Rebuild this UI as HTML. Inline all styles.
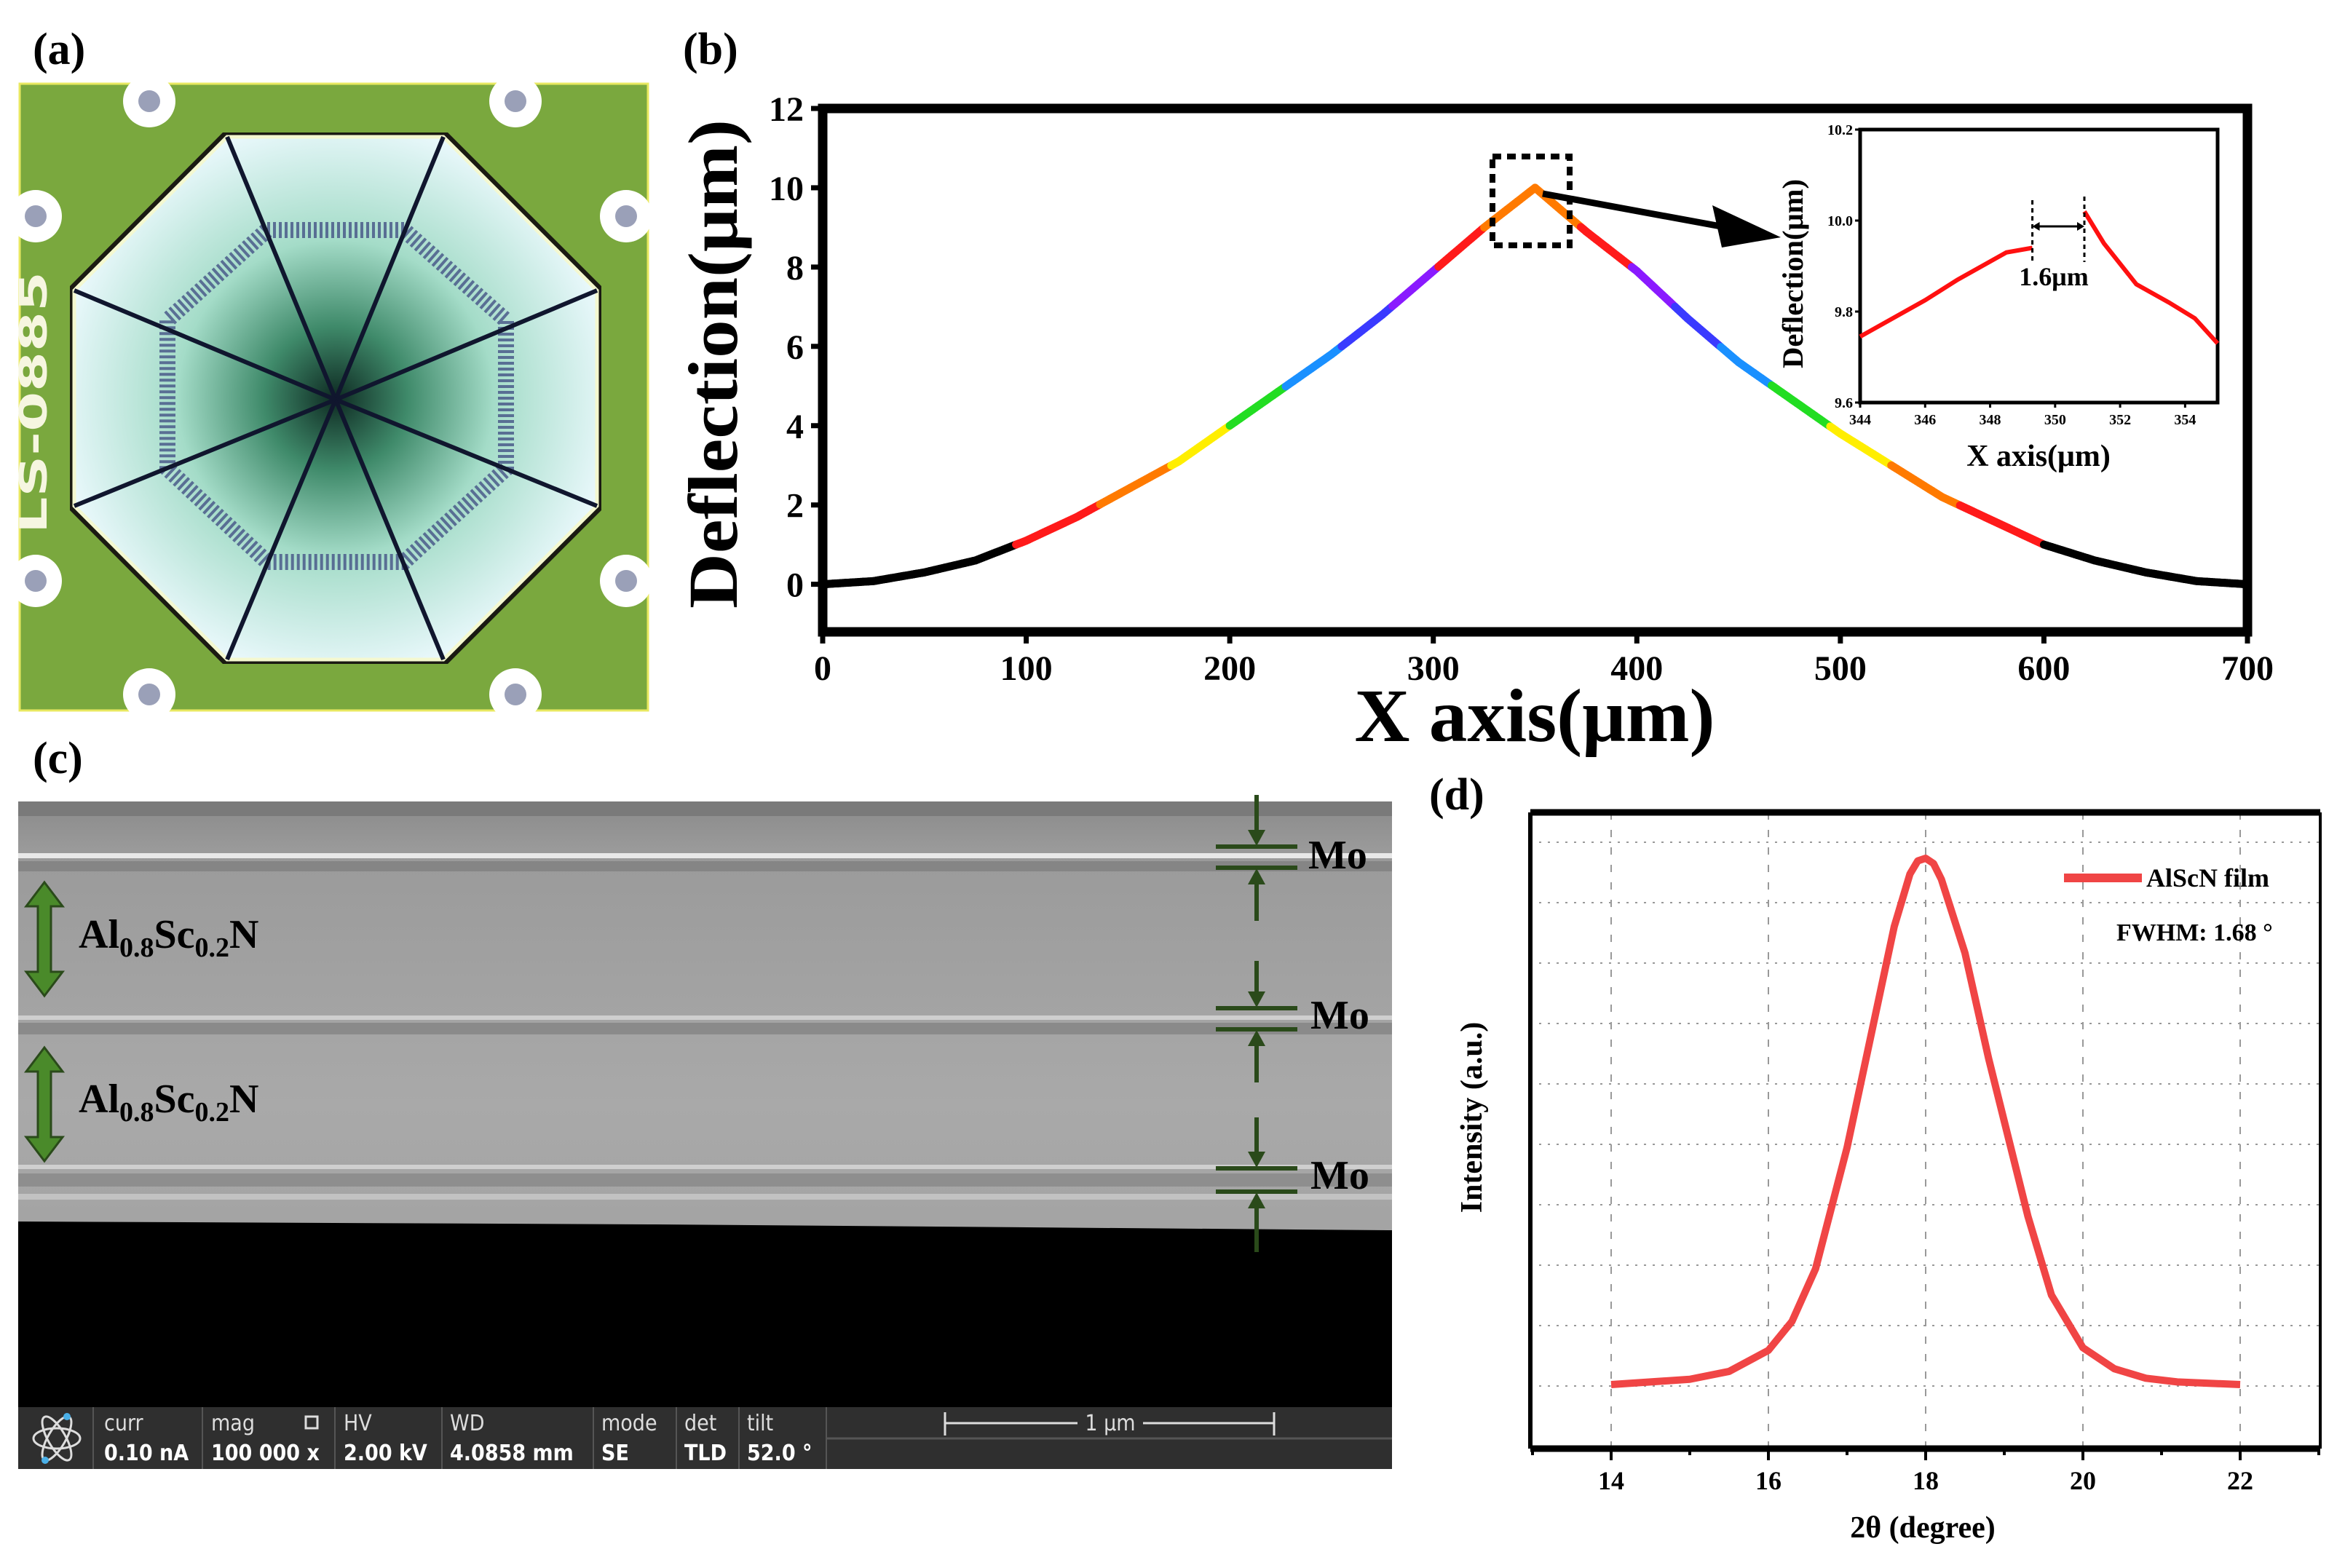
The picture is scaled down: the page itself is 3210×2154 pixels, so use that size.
<!DOCTYPE html>
<html><head><meta charset="utf-8"><style>
html,body{margin:0;padding:0;background:#fff;}
svg{display:block;font-family:"Liberation Serif",serif;}
.sem{font-family:"DejaVu Sans Condensed","DejaVu Sans",sans-serif;}
</style></head><body>
<svg id="fig" width="3210" height="2154" viewBox="0 0 3210 2154" xmlns="http://www.w3.org/2000/svg">
<defs>
<radialGradient id="memg" cx="50%" cy="50%" r="55%">
<stop offset="0" stop-color="#0e2a22"/><stop offset="0.25" stop-color="#3f8a6a"/><stop offset="0.55" stop-color="#a4dcc8"/><stop offset="1" stop-color="#eefaff"/>
</radialGradient>
<linearGradient id="semg" x1="0" y1="0" x2="0" y2="1">
<stop offset="0" stop-color="#8a8a8a"/><stop offset="0.08" stop-color="#9a9a9a"/><stop offset="0.5" stop-color="#a9a9a9"/><stop offset="1" stop-color="#9c9c9c"/>
</linearGradient>
</defs>

<!-- (a) -->
<text x="45" y="88" font-size="62" font-weight="bold">(a)</text>
<g>
<rect x="27" y="115" width="863" height="861" fill="#7aa83e" stroke="#e8e860" stroke-width="3"/>
<g fill="#fff"><circle cx="205" cy="139" r="36"/><circle cx="708" cy="139" r="36"/><circle cx="49" cy="297" r="36"/><circle cx="860" cy="297" r="36"/><circle cx="49" cy="798" r="36"/><circle cx="860" cy="798" r="36"/><circle cx="205" cy="954" r="36"/><circle cx="708" cy="954" r="36"/></g>
<g fill="#9aa0b8"><circle cx="205" cy="139" r="15"/><circle cx="708" cy="139" r="15"/><circle cx="49" cy="297" r="15"/><circle cx="860" cy="297" r="15"/><circle cx="49" cy="798" r="15"/><circle cx="860" cy="798" r="15"/><circle cx="205" cy="954" r="15"/><circle cx="708" cy="954" r="15"/></g>
<polygon points="306,182 615,182 826,393 826,701 615,912 306,912 96,701 96,393" fill="#1a1a12"/>
<polygon points="312,188 609,188 820,399 820,695 609,906 312,906 102,695 102,399" fill="url(#memg)" stroke="#f4f8d0" stroke-width="5"/>
<polygon points="367,316 555,316 695,440 695,644 555,772 367,772 230,644 230,440" fill="none" stroke="#4a5a8a" stroke-width="22" stroke-dasharray="4 4" opacity="0.85"/>
<g stroke="#10162e" stroke-width="6"><line x1="461" y1="549" x2="312" y2="188"/><line x1="461" y1="549" x2="609" y2="188"/><line x1="461" y1="549" x2="820" y2="399"/><line x1="461" y1="549" x2="820" y2="695"/><line x1="461" y1="549" x2="609" y2="906"/><line x1="461" y1="549" x2="312" y2="906"/><line x1="461" y1="549" x2="102" y2="695"/><line x1="461" y1="549" x2="102" y2="399"/></g>
<text transform="translate(64,733) rotate(-90)" font-family="DejaVu Sans Condensed,sans-serif" font-weight="bold" font-size="52" fill="#f6f6e0" textLength="360" lengthAdjust="spacingAndGlyphs">LS-0885</text>
</g>

<!-- (b) -->
<text x="938" y="88" font-size="62" font-weight="bold">(b)</text>
<g id="chartB"></g>

<!-- (c) -->
<text x="45" y="1062" font-size="62" font-weight="bold">(c)</text>
<g>
<rect x="25" y="1101" width="1887" height="832" fill="url(#semg)"/>
<rect x="25" y="1101" width="1887" height="20" fill="#7a7a7a"/>
<rect x="25" y="1172" width="1887" height="7" fill="#e8e8e8"/>
<rect x="25" y="1183" width="1887" height="14" fill="#858585"/>
<rect x="25" y="1395" width="1887" height="6" fill="#cfcfcf"/>
<rect x="25" y="1405" width="1887" height="16" fill="#8a8a8a"/>
<rect x="25" y="1600" width="1887" height="6" fill="#cfcfcf"/>
<rect x="25" y="1612" width="1887" height="18" fill="#8e8e8e"/>
<rect x="25" y="1640" width="1887" height="8" fill="#c2c2c2"/>
<polygon points="25,1678 900,1682 1912,1690 1912,1933 25,1933" fill="#000"/>
<g fill="#4a8a2a" stroke="#2a4a1a" stroke-width="3">
<polygon points="61,1212 86,1245 70,1245 70,1335 86,1335 61,1368 36,1335 52,1335 52,1245 36,1245"/>
<polygon points="61,1439 86,1472 70,1472 70,1562 86,1562 61,1595 36,1562 52,1562 52,1472 36,1472"/>
</g>
<text x="108" y="1302" font-size="56" font-weight="bold">Al<tspan font-size="38" dy="12">0.8</tspan><tspan dy="-12">Sc</tspan><tspan font-size="38" dy="12">0.2</tspan><tspan dy="-12">N</tspan></text>
<text x="108" y="1528" font-size="56" font-weight="bold">Al<tspan font-size="38" dy="12">0.8</tspan><tspan dy="-12">Sc</tspan><tspan font-size="38" dy="12">0.2</tspan><tspan dy="-12">N</tspan></text>
<g stroke="#2a4a1a" stroke-width="6" fill="#2a4a1a">
<line x1="1670" y1="1163" x2="1782" y2="1163"/><line x1="1670" y1="1192" x2="1782" y2="1192"/>
<line x1="1726" y1="1092" x2="1726" y2="1150"/><polygon points="1714,1140 1738,1140 1726,1162" stroke="none"/>
<line x1="1726" y1="1205" x2="1726" y2="1265"/><polygon points="1714,1215 1738,1215 1726,1193" stroke="none"/>
<line x1="1670" y1="1385" x2="1782" y2="1385"/><line x1="1670" y1="1414" x2="1782" y2="1414"/>
<line x1="1726" y1="1320" x2="1726" y2="1372"/><polygon points="1714,1362 1738,1362 1726,1384" stroke="none"/>
<line x1="1726" y1="1427" x2="1726" y2="1487"/><polygon points="1714,1437 1738,1437 1726,1415" stroke="none"/>
<line x1="1670" y1="1605" x2="1782" y2="1605"/><line x1="1670" y1="1637" x2="1782" y2="1637"/>
<line x1="1726" y1="1535" x2="1726" y2="1592"/><polygon points="1714,1582 1738,1582 1726,1604" stroke="none"/>
<line x1="1726" y1="1650" x2="1726" y2="1720"/><polygon points="1714,1660 1738,1660 1726,1638" stroke="none"/>
</g>
<text x="1797" y="1193" font-size="56" font-weight="bold">Mo</text>
<text x="1800" y="1413" font-size="56" font-weight="bold">Mo</text>
<text x="1800" y="1633" font-size="56" font-weight="bold">Mo</text>
<g class="sem">
<rect x="25" y="1933" width="1887" height="85" fill="#2f2f2f"/>
<line x1="1135" y1="1976" x2="1912" y2="1976" stroke="#555" stroke-width="3"/>
<g stroke="#555" stroke-width="2"><line x1="128" y1="1933" x2="128" y2="2018"/><line x1="278" y1="1933" x2="278" y2="2018"/><line x1="460" y1="1933" x2="460" y2="2018"/><line x1="607" y1="1933" x2="607" y2="2018"/><line x1="815" y1="1933" x2="815" y2="2018"/><line x1="929" y1="1933" x2="929" y2="2018"/><line x1="1015" y1="1933" x2="1015" y2="2018"/><line x1="1135" y1="1933" x2="1135" y2="2018"/></g>
<g fill="none" stroke="#ddd" stroke-width="3"><ellipse cx="78" cy="1976" rx="32" ry="14"/><ellipse cx="78" cy="1976" rx="12" ry="34" transform="rotate(30 78 1976)"/><ellipse cx="78" cy="1976" rx="12" ry="34" transform="rotate(-30 78 1976)"/></g>
<circle cx="92" cy="1946" r="5" fill="#4ab0e8"/><circle cx="62" cy="2006" r="5" fill="#4ab0e8"/>
<g fill="#ddd" font-size="30"><text x="143" y="1965">curr</text><text x="290" y="1965">mag</text><rect x="420" y="1946" width="16" height="16" fill="none" stroke="#ddd" stroke-width="3"/><text x="472" y="1965">HV</text><text x="618" y="1965">WD</text><text x="826" y="1965">mode</text><text x="940" y="1965">det</text><text x="1026" y="1965">tilt</text></g>
<g fill="#fff" font-size="30" font-weight="bold"><text x="143" y="2006">0.10 nA</text><text x="290" y="2006">100 000 x</text><text x="472" y="2006">2.00 kV</text><text x="618" y="2006">4.0858 mm</text><text x="826" y="2006">SE</text><text x="940" y="2006">TLD</text><text x="1026" y="2006">52.0 °</text></g>
<g stroke="#ddd" stroke-width="3"><line x1="1298" y1="1940" x2="1298" y2="1972"/><line x1="1750" y1="1940" x2="1750" y2="1972"/><line x1="1298" y1="1955" x2="1480" y2="1955"/><line x1="1570" y1="1955" x2="1750" y2="1955"/></g>
<text x="1525" y="1965" fill="#ddd" font-size="30" text-anchor="middle">1 μm</text>
</g>
</g>

<!-- (d) -->
<text x="1963" y="1112" font-size="62" font-weight="bold">(d)</text>
<g id="chartD"></g>
</svg>

<script>
// ----- Chart (b) data -----
const bX = [0,25,50,75,100,125,150,175,200,225,250,275,300,325,350,375,400,425,450,475,500,525,550,575,600,625,650,675,700];
const bY = [0,0.08,0.3,0.6,1.1,1.7,2.4,3.1,4.0,4.9,5.8,6.8,7.9,9.0,10.0,8.9,7.9,6.7,5.6,4.7,3.8,3.0,2.2,1.6,1.0,0.6,0.3,0.08,0];
const bXTicks = [0,100,200,300,400,500,600,700];
const bYTicks = [0,2,4,6,8,10,12];
const bandColors = ['#000000','#ff1a1a','#ff7a00','#ffee00','#22dd22','#1a90ff','#3a3aff','#8a1aff','#ff1a1a','#ff7a00'];
const insX = [344,345,346,347,348,348.5,349.3];
const insY = [9.745,9.785,9.825,9.87,9.91,9.93,9.94];
const insX2 = [350.9,351.5,352.5,353.5,354.3,355];
const insY2 = [10.02,9.95,9.86,9.82,9.785,9.73];
const insXTicks = [344,346,348,350,352,354];
const insYTicks = ['9.6','9.8','10.0','10.2'];
// ----- Chart (d) data -----
const dX = [14,14.5,15,15.5,16,16.3,16.6,17,17.3,17.6,17.8,17.9,18,18.1,18.2,18.5,18.8,19,19.3,19.6,20,20.4,20.8,21.2,22];
const dY = [0,0.005,0.01,0.025,0.065,0.12,0.22,0.45,0.66,0.87,0.97,0.995,1.0,0.99,0.96,0.82,0.62,0.5,0.32,0.17,0.07,0.03,0.012,0.005,0];
const dXTicks = [14,16,18,20,22];

const NS='http://www.w3.org/2000/svg';
function mk(tag, attrs, parent){const e=document.createElementNS(NS,tag);for(const k in attrs)e.setAttribute(k,attrs[k]);parent.appendChild(e);return e;}

// Chart B
(function(){
const g=document.getElementById('chartB');
const L=1130,R=3087,T=149,B=868;
const xs=v=>L+(v-0)/(700-0)*(R-L);
const ys=v=>B-(v-(-1.2))/(12-(-1.2))*(B-T);
for(let i=0;i<bX.length-1;i++){
 const n=20;for(let k=0;k<n;k++){const t0=k/n,t1=(k+1)/n;
  const x0=bX[i]+(bX[i+1]-bX[i])*t0,x1=bX[i]+(bX[i+1]-bX[i])*t1;
  const y0=bY[i]+(bY[i+1]-bY[i])*t0,y1=bY[i]+(bY[i+1]-bY[i])*t1;
  const band=Math.min(9,Math.floor((y0+y1)/2));
  const s=mk('line',{x1:xs(x0),y1:ys(y0),x2:xs(x1),y2:ys(y1),stroke:bandColors[band],'stroke-width':11,'stroke-linecap':'round'},g);
  
  
 }}
const fr=mk('rect',{x:L,y:T,width:R-L,height:B-T,fill:'none',stroke:'#000','stroke-width':13},g);


bXTicks.forEach(v=>{mk('line',{x1:xs(v),y1:B,x2:xs(v),y2:B+16,stroke:'#000','stroke-width':7},g);
 const t=mk('text',{x:xs(v),y:B+66,'font-size':48,'font-weight':'bold','text-anchor':'middle'},g);t.textContent=v;
 
 });
bYTicks.forEach(v=>{mk('line',{x1:L-16,y1:ys(v),x2:L,y2:ys(v),stroke:'#000','stroke-width':7},g);
 const t=mk('text',{x:L-26,y:ys(v)+17,'font-size':48,'font-weight':'bold','text-anchor':'end'},g);t.textContent=v;
 
 });
const xt=mk('text',{x:2108,y:1018,'font-size':104,'font-weight':'bold','text-anchor':'middle',textLength:495,lengthAdjust:'spacingAndGlyphs'},g);xt.textContent='X axis(μm)';


const yt=mk('text',{x:0,y:0,'font-size':96,'font-weight':'bold','text-anchor':'middle',textLength:672,lengthAdjust:'spacingAndGlyphs',transform:'translate(1012,500) rotate(-90)'},g);yt.textContent='Deflection(μm)';


const db=mk('rect',{x:2050,y:215,width:106,height:122,fill:'none',stroke:'#000','stroke-width':8,'stroke-dasharray':'12 8'},g);


mk('line',{x1:2119,y1:266,x2:2380,y2:314,stroke:'#000','stroke-width':9},g);
mk('polygon',{points:'2446,326 2352,282 2365,340',fill:'#000'},g);
const iL=2555,iR=3046,iT=178,iB=553;
const ixs=v=>iL+(v-344)/(355-344)*(iR-iL);
const iys=v=>iB-(v-9.6)/(10.2-9.6)*(iB-iT);
const ir=mk('rect',{x:iL,y:iT,width:iR-iL,height:iB-iT,fill:'#fff',stroke:'#000','stroke-width':5},g);


[[insX,insY],[insX2,insY2]].forEach(([X,Y])=>{
 const p=mk('polyline',{points:X.map((v,i)=>ixs(v)+','+iys(Y[i])).join(' '),fill:'none',stroke:'#ff1010','stroke-width':6},g);
 
 });
insXTicks.forEach(v=>{mk('line',{x1:ixs(v),y1:iB,x2:ixs(v),y2:iB+7,stroke:'#000','stroke-width':3},g);
 const t=mk('text',{x:ixs(v),y:iB+30,'font-size':20,'font-weight':'bold','text-anchor':'middle'},g);t.textContent=v;
 
 });
insYTicks.forEach(v=>{const y=iys(parseFloat(v));mk('line',{x1:iL-7,y1:y,x2:iL,y2:y,stroke:'#000','stroke-width':3},g);
 const t=mk('text',{x:iL-10,y:y+7,'font-size':20,'font-weight':'bold','text-anchor':'end'},g);t.textContent=v;
 
 });
const ixt=mk('text',{x:2800,y:640,'font-size':42,'font-weight':'bold','text-anchor':'middle'},g);ixt.textContent='X axis(μm)';


const iyt=mk('text',{x:0,y:0,'font-size':40,'font-weight':'bold','text-anchor':'middle',textLength:260,lengthAdjust:'spacingAndGlyphs',transform:'translate(2476,376) rotate(-90)'},g);iyt.textContent='Deflection(μm)';


const a=ixs(349.3),b=ixs(350.9);
mk('line',{x1:a,y1:275,x2:a,y2:360,stroke:'#000','stroke-width':3,'stroke-dasharray':'6 5'},g);
mk('line',{x1:b,y1:270,x2:b,y2:360,stroke:'#000','stroke-width':3,'stroke-dasharray':'6 5'},g);
mk('line',{x1:a+8,y1:311,x2:b-8,y2:311,stroke:'#000','stroke-width':3},g);
mk('polygon',{points:`${a},311 ${a+10},305 ${a+10},317`,fill:'#000'},g);
mk('polygon',{points:`${b},311 ${b-10},305 ${b-10},317`,fill:'#000'},g);
const ann=mk('text',{x:2821,y:392,'font-size':36,'font-weight':'bold','text-anchor':'middle'},g);ann.textContent='1.6μm';


})();

// Chart D
(function(){
const g=document.getElementById('chartD');
const L=2102,R=3187,T=1116,B=1990;
const xs=v=>2213+(v-14)/(22-14)*(3077-2213);
const ys=v=>1902-v*(1902-1179);
for(let i=0;i<10;i++){const y=1157+i*83;const l=mk('line',{x1:L,y1:y,x2:R,y2:y,stroke:'#999','stroke-width':2,'stroke-dasharray':'3 9'},g);
 
 }
dXTicks.forEach(v=>{const l=mk('line',{x1:xs(v),y1:T,x2:xs(v),y2:B,stroke:'#999','stroke-width':2,'stroke-dasharray':'10 14'},g);
 
 });
const c=mk('polyline',{points:dX.map((v,i)=>xs(v)+','+ys(dY[i])).join(' '),fill:'none',stroke:'#f04545','stroke-width':10,'stroke-linejoin':'round'},g);


mk('line',{x1:L,y1:T,x2:R,y2:T,stroke:'#000','stroke-width':9},g);
mk('line',{x1:L,y1:B,x2:R,y2:B,stroke:'#000','stroke-width':9},g);
mk('line',{x1:L,y1:T,x2:L,y2:B,stroke:'#000','stroke-width':6},g);
mk('line',{x1:R,y1:T,x2:R,y2:B,stroke:'#000','stroke-width':4},g);
for(let v=13;v<=23;v++){if(xs(v)<L||xs(v)>R)continue;mk('line',{x1:xs(v),y1:B,x2:xs(v),y2:B+(v%2===0?16:9),stroke:'#000','stroke-width':4},g);}
dXTicks.forEach(v=>{const t=mk('text',{x:xs(v),y:2046,'font-size':36,'font-weight':'bold','text-anchor':'middle'},g);t.textContent=v;
 
 });
const xt=mk('text',{x:2641,y:2112,'font-size':42,'font-weight':'bold','text-anchor':'middle'},g);xt.textContent='2θ (degree)';


const yt=mk('text',{x:0,y:0,'font-size':42,'font-weight':'bold','text-anchor':'middle',transform:'translate(2035,1535) rotate(-90)'},g);yt.textContent='Intensity (a.u.)';


const ll=mk('line',{x1:2835,y1:1206,x2:2942,y2:1206,stroke:'#f04545','stroke-width':12},g);


const lt=mk('text',{x:2948,y:1218,'font-size':36,'font-weight':'bold'},g);lt.textContent='AlScN film';


const ft=mk('text',{x:2907,y:1292,'font-size':34,'font-weight':'bold'},g);ft.textContent='FWHM:  1.68 °';


})();
</script>
</body></html>
